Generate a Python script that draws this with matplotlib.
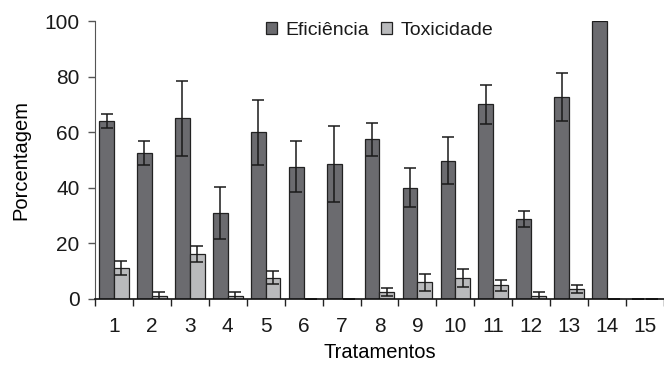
import matplotlib
matplotlib.use("Agg")
import matplotlib.pyplot as plt
import numpy as np

plt.rcParams['font.family'] = ['Liberation Sans', 'DejaVu Sans']
plt.rcParams['text.color'] = '#1a1a1a'
plt.rcParams['xtick.color'] = '#1a1a1a'
plt.rcParams['ytick.color'] = '#1a1a1a'

categories = [str(i) for i in range(1, 16)]
eficiencia = [64.0, 52.5, 65.0, 31.0, 60.0, 47.6, 48.7, 57.4, 40.0, 49.8, 70.0, 28.8, 72.7, 100.0, 0.0]
eficiencia_err = [2.5, 4.3, 13.5, 9.3, 11.7, 9.2, 13.7, 6.0, 7.0, 8.5, 7.1, 3.0, 8.8, 0.0, 0.0]
toxicidade = [11.2, 1.0, 16.2, 1.0, 7.6, 0.0, 0.0, 2.5, 6.0, 7.6, 4.9, 1.0, 3.6, 0.0, 0.0]
toxicidade_err = [2.5, 1.6, 3.0, 1.6, 2.3, 0.0, 0.0, 1.3, 3.0, 3.3, 2.0, 1.6, 1.4, 0.0, 0.0]

fig = plt.figure(figsize=(6.64, 3.65), dpi=100)
ax = fig.add_axes([0.143, 0.181, 0.857, 0.761])

x = np.arange(1, 16)
w = 0.39
dark = '#6b6b6f'
light = '#b9babc'
ek = dict(ecolor='#1a1a1a', elinewidth=1.1, capsize=4, capthick=1.1)

ax.bar(x - w / 2, eficiencia, w, color=dark, edgecolor='#222222', linewidth=0.9,
       label='Eficiência')
ax.errorbar(x - w / 2, eficiencia, yerr=eficiencia_err, fmt='none', **ek)
ax.bar(x + w / 2, toxicidade, w, color=light, edgecolor='#222222', linewidth=0.9,
       label='Toxicidade')
ax.errorbar(x + w / 2, toxicidade, yerr=toxicidade_err, fmt='none', **ek)

ax.set_xlim(0.5, 15.5)
ax.set_ylim(0, 100)
ax.set_yticks([0, 20, 40, 60, 80, 100])
ax.set_xticks(x)
ax.set_xticklabels(categories)
ax.set_xticks(np.arange(0.5, 15.6, 1), minor=True)
ax.tick_params(axis='x', which='major', length=0, pad=13, labelsize=15)
ax.tick_params(axis='x', which='minor', length=5, width=1, color='#222222')
ax.tick_params(axis='y', length=5, width=1, pad=6, labelsize=15, color='#555555')

for s in ['top', 'right']:
    ax.spines[s].set_visible(False)
ax.spines['left'].set_color('#555555')
ax.spines['bottom'].set_color('#111111')
ax.spines['bottom'].set_linewidth(1.2)

ax.set_ylabel('Porcentagem', fontsize=14.5, labelpad=10)
ax.set_xlabel('Tratamentos', fontsize=14.5, labelpad=5)

ax.legend(loc='upper center', bbox_to_anchor=(0.5, 1.025), ncol=2, frameon=False,
          fontsize=14, handlelength=0.57, handleheight=0.55, handletextpad=0.45,
          columnspacing=0.6, borderaxespad=0)

fig.savefig('out.png', dpi=100)
